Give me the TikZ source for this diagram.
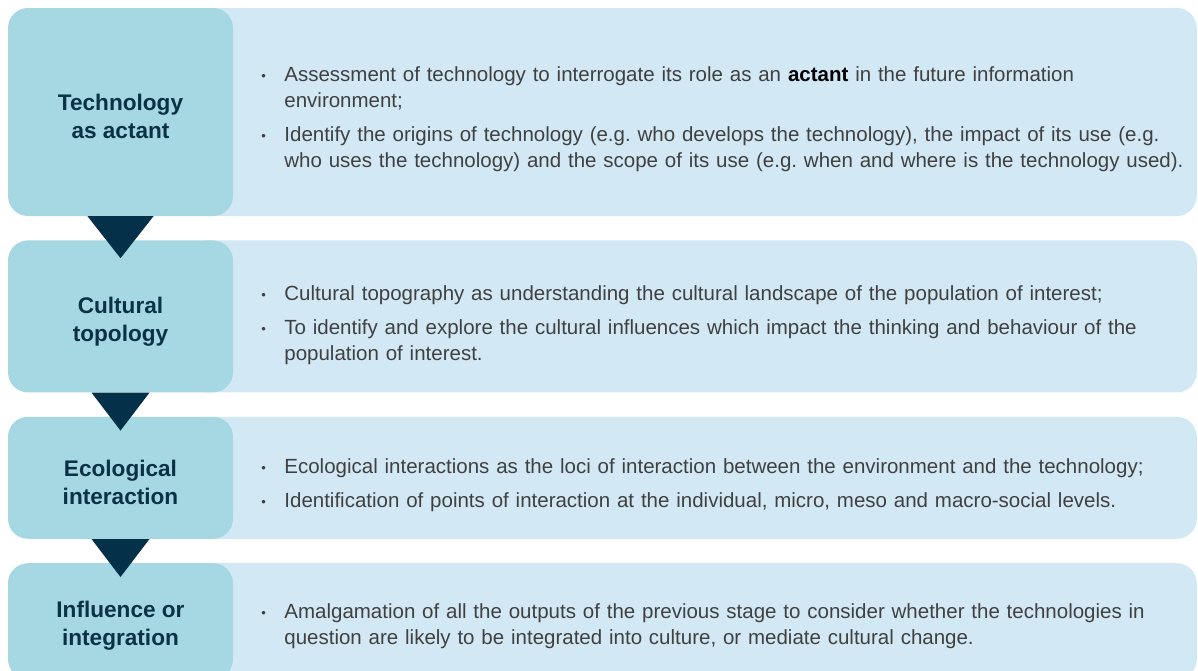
\documentclass[tikz,border=0pt]{standalone}
\usepackage{fontspec}
\setmainfont{Liberation Sans}
\usetikzlibrary{positioning,backgrounds}

\definecolor{stagefill}{HTML}{A6D8E3}
\definecolor{notefill}{HTML}{D2E9F5}
\definecolor{arrowfill}{HTML}{04304A}
\definecolor{titletext}{HTML}{0B3147}
\definecolor{bodytext}{HTML}{404040}

% bullet hung in the left margin of a note
\newcommand{\bitem}{\noindent\llap{\makebox[23pt][l]{\raisebox{0.8pt}{\fontsize{13}{13}\selectfont\textbullet}}}}
% lifts the first title line a little
\newcommand{\tstrut}{\rule{0pt}{26pt}}

\begin{document}
\frenchspacing
\begin{tikzpicture}[
    x=1pt, y=-1pt,
    node distance=24pt,
    stage/.style ={fill=stagefill, rounded corners=20pt, inner sep=0pt,
                   minimum width=225pt, align=center, text=titletext,
                   font=\bfseries\fontsize{22.6}{28}\selectfont},
    detail/.style={fill=notefill, rounded corners=20pt, inner sep=0pt,
                   minimum width=1010pt},
    note/.style  ={inner sep=0pt, text width=930pt, align=left, text=bodytext,
                   font=\fontsize{20.5}{26}\selectfont,
                   execute at begin node={\setlength{\parskip}{8pt}}},
    arrowtip/.style={fill=arrowfill},
  ]
  \useasboundingbox (0,0) rectangle (1198,670);
  \coordinate (edge) at (1197,0);

  % ---------------------------------------------------------------- stages ---
  \node[stage, minimum height=208pt] (tech) at (120.5,112)
        {\tstrut Technology\\as actant};
  \node[stage, minimum height=152pt, below=of tech] (cult)
        {\tstrut Cultural\\topology};
  \node[stage, minimum height=122pt, below=of cult] (eco)
        {\tstrut Ecological\\interaction};
  \node[stage, minimum height=116pt, below=of eco] (infl)
        {\tstrut Influence or\\integration};

  % ----------------------------------------------------------------- notes ---
  \node[note, right=51pt of tech, yshift=-7pt] (technote)
        {\bitem Assessment of technology to interrogate its role as an
         {\color{black}\textbf{actant}} in the future information\\environment;\par
         \bitem Identify the origins of technology (e.g. who develops the technology), the impact of its use (e.g.\\who uses the technology) and the scope of its use (e.g. when and where is the technology used).};
  \node[note, right=51pt of cult, yshift=-9pt] (cultnote)
        {\bitem Cultural topography as understanding the cultural landscape of the population of interest;\par
         \bitem To identify and explore the cultural influences which impact the thinking and behaviour of the\\population of interest.};
  \node[note, right=51pt of eco, yshift=-7pt] (econote)
        {\bitem Ecological interactions as the loci of interaction between the environment and the technology;\par
         \bitem Identification of points of interaction at the individual, micro, meso and macro-social levels.};
  \node[note, right=51pt of infl, yshift=-5pt] (inflnote)
        {\bitem Amalgamation of all the outputs of the previous stage to consider whether the technologies in\\question are likely to be integrated into culture, or mediate cultural change.};

  % ------------------------------------------------------ background panels ---
  \begin{scope}[on background layer]
    \node[detail, minimum height=208pt, anchor=east] (techbg) at (tech.east -| edge) {};
    \node[detail, minimum height=152pt, anchor=east] (cultbg) at (cult.east -| edge) {};
    \node[detail, minimum height=122pt, anchor=east] (ecobg)  at (eco.east -| edge) {};
    \node[detail, minimum height=116pt, anchor=east] (inflbg) at (infl.east -| edge) {};
  \end{scope}

  % ------------------------------------------------------------ arrowheads ---
  \fill[arrowtip] ([xshift=-33pt]tech.south) -- ([xshift=33pt]tech.south)
        -- ([yshift=-42pt]tech.south) -- cycle;
  \fill[arrowtip] ([xshift=-29pt]cult.south) -- ([xshift=29pt]cult.south)
        -- ([yshift=-38pt]cult.south) -- cycle;
  \fill[arrowtip] ([xshift=-29pt]eco.south) -- ([xshift=29pt]eco.south)
        -- ([yshift=-38pt]eco.south) -- cycle;

\end{tikzpicture}
\end{document}
